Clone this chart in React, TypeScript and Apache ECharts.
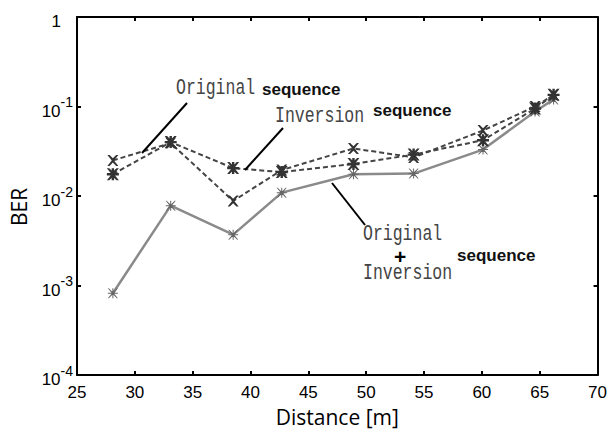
import React, { useEffect, useRef } from "react";
import * as echarts from "echarts";

// Distance [m] of each measurement point
const distances = [28.1, 33.1, 38.5, 42.7, 48.9, 54.1, 60.1, 64.6, 66.2];
// BER values per series
const originalBER = [0.025, 0.039, 0.0088, 0.0195, 0.034, 0.027, 0.054, 0.1, 0.135];
const inversionBER = [0.0175, 0.04, 0.0205, 0.0185, 0.0228, 0.029, 0.042, 0.095, 0.135];
const combinedBER = [0.00082, 0.0078, 0.0037, 0.0109, 0.0175, 0.0178, 0.033, 0.088, 0.12];

const xMin = 25;
const xMax = 70;
const xStep = 5;
const yMin = 1e-4;
const yMax = 1;

const X_MARK = "path://M0,0L2,0L5,3L8,0L10,0L6,5L10,10L8,10L5,7L2,10L0,10L4,5Z";
const ASTERISK =
  "path://M0,0L2,0L5,3L8,0L10,0L6,5L10,10L8,10L5,7L2,10L0,10L4,5Z M4,0L6,0L6,4L10,4L10,6L6,6L6,10L4,10L4,6L0,6L0,4L4,4Z";
const THIN_STAR =
  "path://M0,0L2,0L10,8L18,0L20,0L12,10L20,20L18,20L10,12L2,20L0,20L8,10Z M9,0L11,0L11,9L20,9L20,11L11,11L11,20L9,20L9,11L0,11L0,9L9,9Z";

const pair = (ys: number[]) => distances.map((d, i) => [d, ys[i]]);

const monoStyle = (text: string) => ({
  text,
  fill: "#444",
  fontSize: 22,
  fontFamily: "Liberation Mono",
  textAlign: "left",
  textVerticalAlign: "middle",
});
const seqStyle = {
  text: "sequence",
  fill: "#111",
  fontSize: 17,
  fontWeight: "bold",
  fontFamily: "Liberation Sans",
  textAlign: "left",
  textVerticalAlign: "middle",
};

export default function App() {
  const ref = useRef<HTMLDivElement>(null);
  useEffect(() => {
    if (!ref.current) return;
    const chart = echarts.init(ref.current, undefined, { renderer: "svg" });
    const axisLine = { show: true, lineStyle: { color: "#000", width: 2 } };
    const tickStyle = { show: true, inside: true, length: 4, lineStyle: { color: "#000", width: 2 } };
    chart.setOption({
      animation: false,
      backgroundColor: "#fff",
      grid: { left: 76, top: 17, right: 12, bottom: 53, containLabel: false },
      xAxis: [
        {
          type: "value",
          min: xMin,
          max: xMax,
          interval: xStep,
          name: "Distance [m]",
          nameLocation: "middle",
          nameGap: 31,
          nameTextStyle: { fontSize: 21, color: "#000", fontFamily: "Open Sans" },
          axisLine,
          axisTick: tickStyle,
          axisLabel: { fontSize: 17, color: "#000", margin: 9, fontFamily: "Liberation Sans" },
          splitLine: { show: false },
        },
        {
          type: "value",
          position: "top",
          min: xMin,
          max: xMax,
          interval: xStep,
          axisLine,
          axisTick: tickStyle,
          axisLabel: { show: false },
          splitLine: { show: false },
        },
      ],
      yAxis: [
        {
          type: "log",
          logBase: 10,
          min: yMin,
          max: yMax,
          name: "BER",
          nameLocation: "middle",
          nameGap: 48,
          nameTextStyle: {
            fontSize: 21,
            color: "#000",
            fontFamily: "Open Sans",
            padding: [0, 22, 0, 0],
          },
          axisLine,
          axisTick: tickStyle,
          minorTick: { show: false },
          splitLine: { show: false },
          axisLabel: {
            margin: 4,
            color: "#000",
            fontFamily: "Liberation Sans",
            formatter: (v: number) => {
              const e = Math.round(Math.log10(v));
              if (e === 0) return "{b|1}{g| }";
              return `{b|10}{s|${e}}`;
            },
            rich: {
              b: { fontSize: 17, padding: [9, 0, 0, 0], color: "#000", fontFamily: "Liberation Sans" },
              s: { fontSize: 14, padding: [0, 0, 9, 0], color: "#000", fontFamily: "Liberation Sans" },
              g: { fontSize: 14, width: 12, padding: [0, 0, 9, 0] },
            },
          },
        },
        {
          type: "log",
          logBase: 10,
          position: "right",
          min: yMin,
          max: yMax,
          axisLine,
          axisTick: tickStyle,
          axisLabel: { show: false },
          splitLine: { show: false },
        },
      ],
      series: [
        {
          name: "Original + Inversion sequence",
          type: "line",
          data: pair(combinedBER),
          symbol: THIN_STAR,
          symbolSize: 10,
          lineStyle: { color: "#8a8a8a", width: 2.5, type: "solid" },
          itemStyle: { color: "#666" },
          z: 2,
        },
        {
          name: "Original sequence",
          type: "line",
          data: pair(originalBER),
          symbol: X_MARK,
          symbolSize: 11,
          lineStyle: { color: "#444", width: 2, type: [5, 3] },
          itemStyle: { color: "#333" },
          z: 3,
        },
        {
          name: "Inversion sequence",
          type: "line",
          data: pair(inversionBER),
          symbol: ASTERISK,
          symbolSize: 12,
          lineStyle: { color: "#444", width: 2, type: [5, 3] },
          itemStyle: { color: "#333" },
          z: 4,
        },
      ],
      graphic: [
        { type: "line", shape: { x1: 187, y1: 103, x2: 142, y2: 153 }, style: { stroke: "#000", lineWidth: 2 }, z: 10 },
        { type: "line", shape: { x1: 283, y1: 128, x2: 245, y2: 170 }, style: { stroke: "#000", lineWidth: 2 }, z: 10 },
        { type: "line", shape: { x1: 332, y1: 183, x2: 365, y2: 225 }, style: { stroke: "#000", lineWidth: 2 }, z: 10 },
        { type: "text", x: 176, y: 88, scaleX: 0.75, style: monoStyle("Original"), z: 10 },
        { type: "text", x: 262, y: 89, style: seqStyle, z: 10 },
        { type: "text", x: 275, y: 116, scaleX: 0.75, style: monoStyle("Inversion"), z: 10 },
        { type: "text", x: 373, y: 110, style: seqStyle, z: 10 },
        { type: "text", x: 363, y: 234, scaleX: 0.75, style: monoStyle("Original"), z: 10 },
        {
          type: "text",
          x: 400,
          y: 256,
          style: { text: "+", fill: "#000", fontSize: 21, fontWeight: "bold", fontFamily: "Liberation Sans", textAlign: "center", textVerticalAlign: "middle" },
          z: 10,
        },
        { type: "text", x: 363, y: 273, scaleX: 0.75, style: monoStyle("Inversion"), z: 10 },
        { type: "text", x: 457, y: 255, style: seqStyle, z: 10 },
      ],
    });
    return () => chart.dispose();
  }, []);
  return (
    <div
      ref={ref}
      style={{ position: "absolute", left: 0, top: 0, width: 610, height: 432, background: "#fff" }}
    />
  );
}
